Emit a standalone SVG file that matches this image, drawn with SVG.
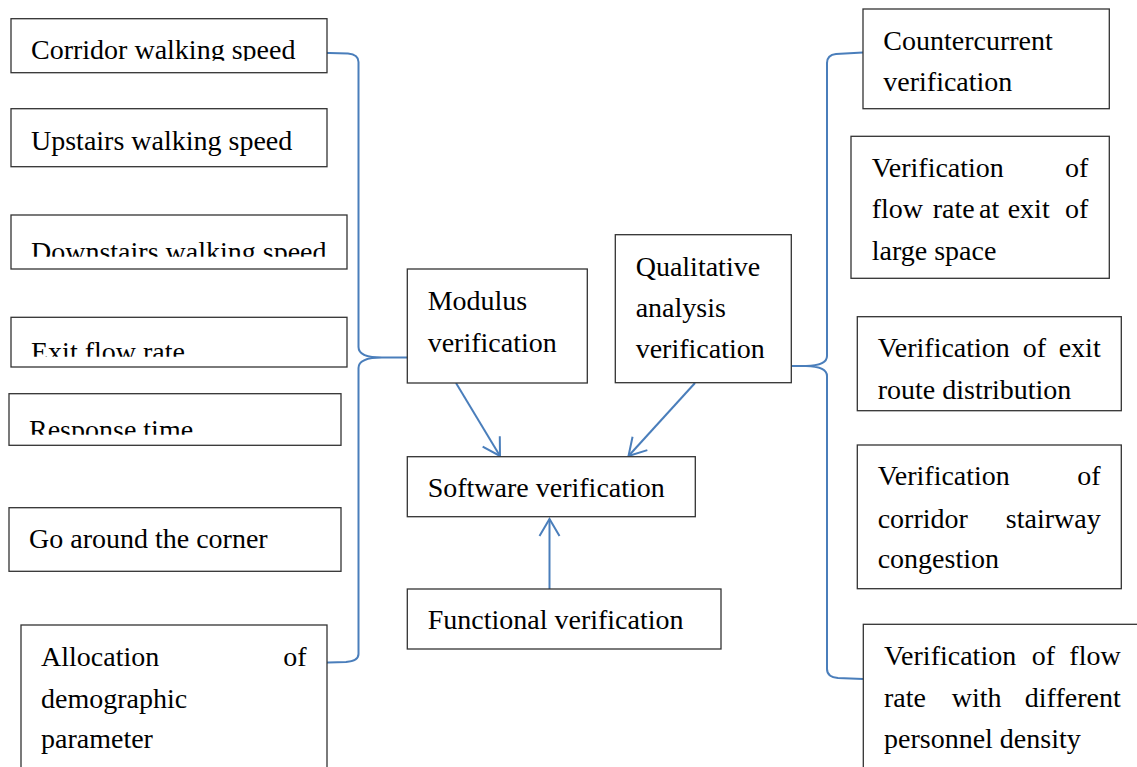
<svg xmlns="http://www.w3.org/2000/svg" width="1137" height="767" viewBox="0 0 1137 767">
<style>
.box{fill:#fff;stroke:#333;stroke-width:1.3}
.lb{font-family:'Liberation Serif','Times New Roman',serif;font-size:28px;fill:#000}
.e{text-anchor:end}
.con{fill:none;stroke:#4a7ebb;stroke-width:2}
</style>
<defs>
<marker id="arr" markerUnits="userSpaceOnUse" markerWidth="24" markerHeight="24" viewBox="-20 -12 24 24" refX="0" refY="0" orient="auto">
<path d="M-17,-10 L0,0 L-17,10" fill="none" stroke="#4a7ebb" stroke-width="2"/>
</marker>
<clipPath id="c1"><rect x="0" y="0" width="400" height="60.8"/></clipPath>
<clipPath id="c3"><rect x="0" y="200" width="400" height="56.8"/></clipPath>
<clipPath id="c4"><rect x="0" y="300" width="400" height="56.8"/></clipPath>
<clipPath id="c5"><rect x="0" y="400" width="400" height="34.8"/></clipPath>
</defs>
<g id="connectors">
<path class="con" d="M311,52.5 L348,53.5 Q358.5,54.5 358.5,62 L358.5,347 Q358.5,357.5 382,357.5 L407,357.5 M382,357.5 Q358.5,357.5 358.5,368 L358.5,654 Q358.5,661 346,662 L311,663"/>
<path class="con" d="M863,52.5 L836,54 Q827,55 827,63 L827,356 Q827,365.5 806,366 L791.5,366 M806,366 Q827,366.5 827,376 L827,669 Q827,677 838,678 L863,679"/>
<line class="con" x1="456" y1="383" x2="500" y2="456" marker-end="url(#arr)"/>
<line class="con" x1="695" y1="383" x2="628.5" y2="456" marker-end="url(#arr)"/>
<line class="con" x1="549.5" y1="589" x2="549.5" y2="519" marker-end="url(#arr)"/>
</g>
<g id="n-corridor"><rect class="box" x="11" y="18.7" width="316" height="54"/><text class="lb" x="31" y="58.8" clip-path="url(#c1)">Corridor walking speed</text></g>
<g id="n-upstairs"><rect class="box" x="11" y="108.7" width="316" height="58"/><text class="lb" x="31" y="149.5">Upstairs walking speed</text></g>
<g id="n-downstairs"><rect class="box" x="11" y="215" width="336" height="54"/><text class="lb" x="31" y="261.2" clip-path="url(#c3)">Downstairs walking speed</text></g>
<g id="n-exitflow"><rect class="box" x="11" y="317.3" width="336" height="49.7"/><text class="lb" x="31" y="361.2" clip-path="url(#c4)">Exit flow rate</text></g>
<g id="n-response"><rect class="box" x="9" y="393.7" width="332" height="51.6"/><text class="lb" x="29" y="439.2" clip-path="url(#c5)">Response time</text></g>
<g id="n-corner"><rect class="box" x="9" y="507.7" width="332" height="63.6"/><text class="lb" x="29" y="547.7">Go around the corner</text></g>
<g id="n-allocation"><rect class="box" x="21" y="625" width="306" height="160"/><text class="lb" x="41" y="666">Allocation</text><text class="lb e" x="306.7" y="666">of</text><text class="lb" x="41" y="707.7">demographic</text><text class="lb" x="41" y="748.3">parameter</text></g>
<g id="n-modulus"><rect class="box" x="407.3" y="269" width="180" height="114"/><text class="lb" x="427.7" y="310">Modulus</text><text class="lb" x="427.7" y="351.7">verification</text></g>
<g id="n-qualitative"><rect class="box" x="615.3" y="234.7" width="176" height="148"/><text class="lb" x="635.7" y="276">Qualitative</text><text class="lb" x="635.7" y="316.7">analysis</text><text class="lb" x="635.7" y="358.3">verification</text></g>
<g id="n-software"><rect class="box" x="407.3" y="456.7" width="288" height="60"/><text class="lb" x="427.7" y="497.3">Software verification</text></g>
<g id="n-functional"><rect class="box" x="407.3" y="589" width="313.7" height="60"/><text class="lb" x="427.7" y="629.3">Functional verification</text></g>
<g id="n-countercurrent"><rect class="box" x="863" y="9" width="246.3" height="99.7"/><text class="lb" x="883.3" y="50">Countercurrent</text><text class="lb" x="883.3" y="90.7">verification</text></g>
<g id="n-largespace"><rect class="box" x="851" y="136.3" width="258.3" height="142"/><text class="lb" x="871.7" y="176.7">Verification</text><text class="lb e" x="1088.3" y="176.7">of</text><text class="lb" y="218.3"><tspan x="871.7">flow</tspan><tspan x="932.7">rate</tspan><tspan x="979">at</tspan><tspan x="1007.7">exit</tspan></text><text class="lb e" x="1088.3" y="218.3">of</text><text class="lb" x="871.7" y="260">large space</text></g>
<g id="n-route"><rect class="box" x="857.3" y="316.7" width="264" height="94"/><text class="lb" y="357.3"><tspan x="877.7">Verification</tspan><tspan x="1022.7">of</tspan></text><text class="lb e" x="1100.7" y="357.3">exit</text><text class="lb" x="877.7" y="399.3">route distribution</text></g>
<g id="n-stairway"><rect class="box" x="857.3" y="445" width="264" height="143.7"/><text class="lb" x="877.7" y="485">Verification</text><text class="lb e" x="1100.7" y="485">of</text><text class="lb" x="877.7" y="528.3">corridor</text><text class="lb e" x="1100.7" y="528.3">stairway</text><text class="lb" x="877.7" y="568.3">congestion</text></g>
<g id="n-density"><rect class="box" x="863.3" y="624.3" width="290" height="160"/><text class="lb" y="665"><tspan x="884">Verification</tspan><tspan x="1031.7">of</tspan></text><text class="lb e" x="1120.7" y="665">flow</text><text class="lb" y="706.7"><tspan x="884">rate</tspan><tspan x="951.7">with</tspan></text><text class="lb e" x="1120.7" y="706.7">different</text><text class="lb" x="884" y="748.3">personnel density</text></g>
</svg>
